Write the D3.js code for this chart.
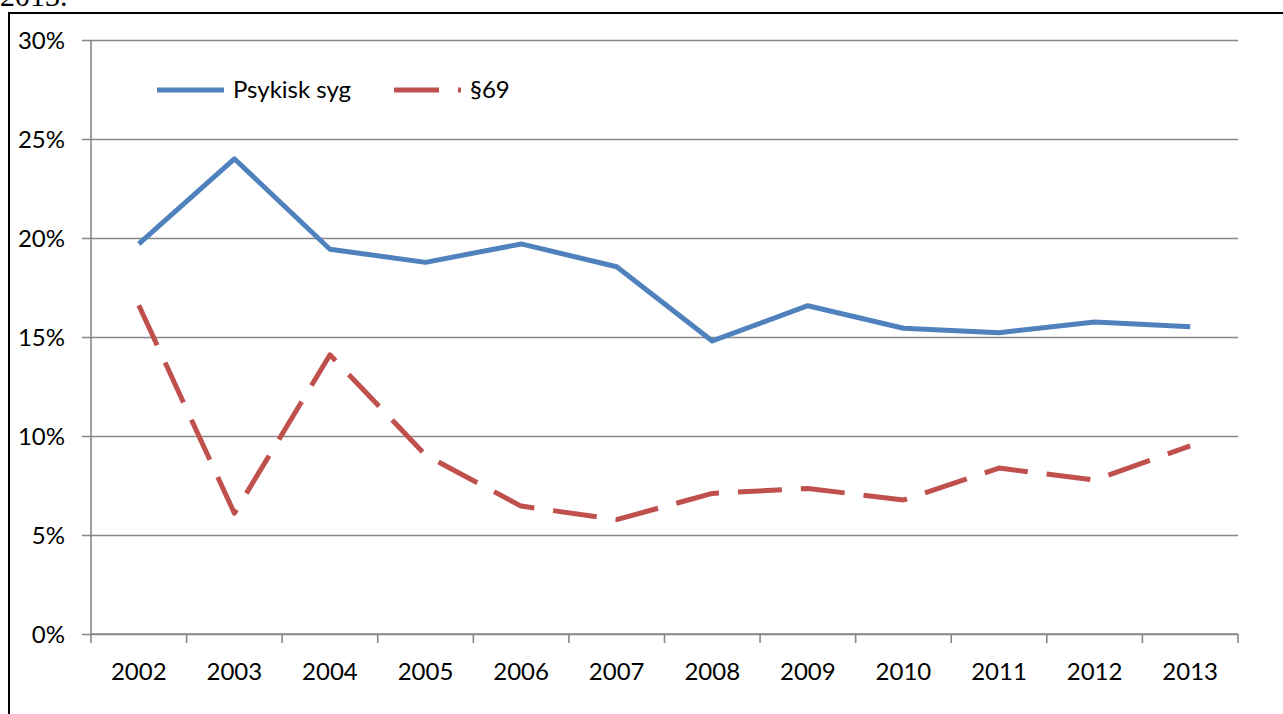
<!DOCTYPE html>
<html>
<head>
<meta charset="utf-8">
<script src="https://cdn.jsdelivr.net/npm/d3@7"></script>
<style>
  html, body { margin: 0; padding: 0; background: #fff; }
  svg { display: block; }
</style>
</head>
<body>
<svg id="chart" width="1283" height="714"></svg>
<script>
const years = ["2002","2003","2004","2005","2006","2007","2008","2009","2010","2011","2012","2013"];
const psykiskSyg = [19.7, 24.0, 19.43, 18.77, 19.7, 18.55, 14.8, 16.58, 15.44, 15.22, 15.76, 15.52];
const paragraf69 = [16.6, 6.1, 14.1, 9.04, 6.46, 5.78, 7.1, 7.35, 6.77, 8.38, 7.78, 9.5];
const yTicks = [0, 5, 10, 15, 20, 25, 30];
const seriesNames = ["Psykisk syg", "§69"];
const seriesColors = ["#4F81BD", "#C0504D"];

const svg = d3.select("#chart");
const font = "Lato, 'Open Sans', sans-serif";

// partial caption above frame (cut off at the top, as in the reference)
svg.append("text").attr("x", 0).attr("y", 6)
  .attr("font-family", "'Liberation Serif', serif").attr("font-size", 30)
  .attr("fill", "#000").text("2013.");

// frame
svg.append("rect").attr("x", 9).attr("y", 13).attr("width", 1300).attr("height", 760)
  .attr("fill", "none").attr("stroke", "#000").attr("stroke-width", 2);

const x0 = 91, x1 = 1238, yTop = 40, yBot = 634;
const x = d3.scaleBand().domain(years).range([x0, x1]);
const y = d3.scaleLinear().domain([0, 30]).range([yBot, yTop]);
const gridColor = "#878787";
const fs = 24;

// horizontal gridlines with left tick marks
const yAxis = d3.axisLeft(y).tickValues(yTicks).tickSize(-(x1 - x0)).tickFormat(d => d + "%");
const gy = svg.append("g").attr("transform", `translate(${x0},0)`).call(yAxis);
gy.select(".domain").remove();
gy.selectAll(".tick line").attr("stroke", gridColor).attr("stroke-width", 1.6).attr("x1", -9);
gy.selectAll(".tick text").attr("x", -26).attr("font-family", font).attr("font-size", fs)
  .attr("fill", "#000").attr("dy", "0.35em");
// vertical axis line
svg.append("line").attr("x1", x0).attr("x2", x0).attr("y1", yTop).attr("y2", yBot)
  .attr("stroke", gridColor).attr("stroke-width", 1.6);

// x axis
const gx = svg.append("g").attr("transform", `translate(0,${yBot})`)
  .call(d3.axisBottom(x).tickSize(0).tickPadding(0));
gx.select(".domain").remove();
gx.selectAll(".tick text").attr("y", 38).attr("dy", "0.35em").attr("font-family", font)
  .attr("font-size", fs).attr("fill", "#000");
const bounds = years.map(d => x(d)).concat([x1]);
svg.append("g").selectAll("line").data(bounds).join("line")
  .attr("x1", d => d).attr("x2", d => d).attr("y1", yBot).attr("y2", yBot + 9)
  .attr("stroke", gridColor).attr("stroke-width", 1.6);
svg.append("line").attr("x1", x0).attr("x2", x1).attr("y1", yBot).attr("y2", yBot)
  .attr("stroke", gridColor).attr("stroke-width", 1.6);

// lines
const line = d3.line().x((d, i) => x(years[i]) + x.bandwidth() / 2).y(d => y(d));
svg.append("path").datum(psykiskSyg).attr("d", line).attr("fill", "none")
  .attr("stroke", seriesColors[0]).attr("stroke-width", 5).attr("stroke-linejoin", "round");
svg.append("path").datum(paragraf69).attr("d", line).attr("fill", "none")
  .attr("stroke", seriesColors[1]).attr("stroke-width", 5).attr("stroke-linejoin", "round")
  .attr("stroke-dasharray", "44 19");

// legend
const legendItems = [
  { name: seriesNames[0], color: seriesColors[0], x: 157, dash: null },
  { name: seriesNames[1], color: seriesColors[1], x: 394, dash: "45 19" }
];
const lg = svg.append("g");
legendItems.forEach(it => {
  lg.append("line").attr("x1", it.x).attr("x2", it.x + 67).attr("y1", 90).attr("y2", 90)
    .attr("stroke", it.color).attr("stroke-width", 5)
    .attr("stroke-dasharray", it.dash);
  lg.append("text").attr("x", it.x + 76).attr("y", 90).attr("dy", "0.35em")
    .attr("font-family", font).attr("font-size", fs).attr("fill", "#000").text(it.name);
});
</script>
</body>
</html>
